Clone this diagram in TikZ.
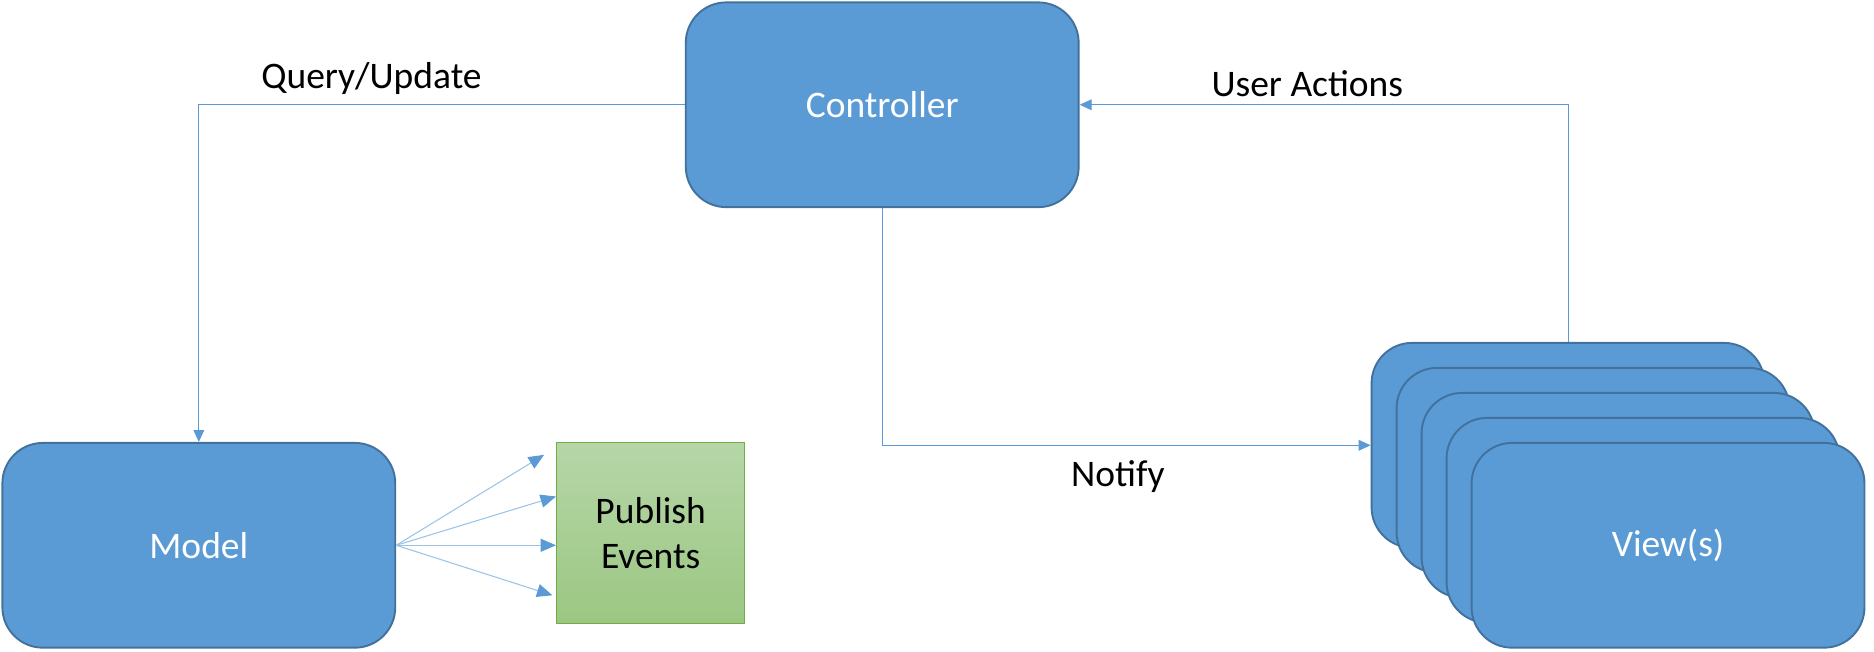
\documentclass[tikz,border=0pt]{standalone}
\usepackage{fontspec}
\setmainfont{Carlito}
\usetikzlibrary{arrows.meta,shadings}
\definecolor{boxfill}{HTML}{5B9BD5}
\definecolor{boxline}{HTML}{41719C}
\definecolor{conn}{HTML}{5B9BD5}
\definecolor{fanline}{HTML}{9DC3E6}
\definecolor{gtop}{HTML}{B6D6A8}
\definecolor{gbot}{HTML}{9BC782}
\definecolor{gline}{HTML}{70AD47}
\tikzset{
  bluebox/.style={draw=boxline, line width=1.6pt, fill=boxfill, rounded corners=34pt,
    minimum width=330pt, minimum height=172pt, inner sep=0pt, text=white,
    font=\fontsize{31.5}{38}\selectfont},
  conline/.style={draw=conn, line width=0.9pt, -{Triangle[length=10pt,width=9pt]}},
  fanarrow/.style={draw=fanline, line width=0.9pt, -{Triangle[length=13pt,width=11pt,fill=conn,color=conn]}},
  lbl/.style={font=\fontsize{31.5}{38}\selectfont, text=black},
}
\begin{document}
\begin{tikzpicture}[x=1pt,y=-1pt]
\useasboundingbox (0,0) rectangle (1574,547.6);
% boxes
\node[bluebox] (ctrl) at (741,88) {Controller};
\node[bluebox] (model) at (167,458) {Model};
\node[draw=gline, line width=0.9pt, top color=gtop, bottom color=gbot,
  minimum width=158pt, minimum height=152pt, inner sep=0pt, align=center,
  font=\fontsize{31.5}{38}\selectfont] (pub) at (546.5,447.5) {Publish\\Events};
\node[bluebox] (v1) at (1317,374) {};
\node[bluebox] (v2) at (1338,395) {};
\node[bluebox] (v3) at (1359,416) {};
\node[bluebox] (v4) at (1380,437) {};
\node[bluebox] (v5) at (1401,458) {View(s)};
% connectors
\draw[conline] (ctrl.west) -| (model.north);
\draw[conline] (v1.north) |- (ctrl.east);
\draw[conline] (ctrl.south) |- (v1.west);
% labels
\node[lbl] (lq) at (312,66) {Query/Update};
\node[lbl] (lu) at (1098,70) {User Actions};
\node[lbl] (ln) at (939,400) {Notify};
% fan
\coordinate (f1) at (457,382);
\coordinate (f2) at (467,417);
\coordinate (f3) at (467,458);
\coordinate (f4) at (464,500);
\draw[fanarrow] (model.east) -- (f1);
\draw[fanarrow] (model.east) -- (f2);
\draw[fanarrow] (model.east) -- (f3);
\draw[fanarrow] (model.east) -- (f4);
\end{tikzpicture}
\end{document}
